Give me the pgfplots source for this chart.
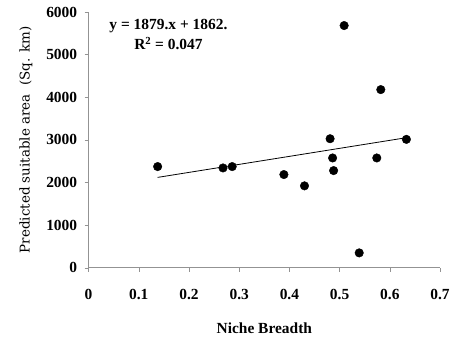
\documentclass[border=0pt]{standalone}
\usepackage{pgfplots}
\pgfplotsset{compat=1.18}
\usepackage{fontspec}
\setmainfont{Liberation Serif}
\newfontfamily\ylabfont{DejaVu Serif}
\begin{document}
\begin{tikzpicture}
\begin{axis}[
  scale only axis,
  width=353pt, height=257pt,
  xmin=0, xmax=0.7, ymin=0, ymax=6000,
  axis lines*=left,
  axis line style={draw=gray!85, line width=0.8pt},
  xtick={0,0.1,...,0.7},
  ytick={0,1000,...,6000},
  xticklabels={0,0.1,0.2,0.3,0.4,0.5,0.6,0.7},
  yticklabels={0,1000,2000,3000,4000,5000,6000},
  tick align=outside,
  major tick length=4pt,
  tick style={draw=gray!85, line width=0.6pt},
  ticklabel style={font=\fontsize{15.5}{15.5}\selectfont\bfseries},
  xticklabel style={yshift=-14pt},
  yticklabel style={xshift=-4pt},
  xlabel={\fontsize{15.5}{15.5}\selectfont\bfseries Niche Breadth},
  xlabel style={yshift=-16pt},
  ylabel={\ylabfont\fontsize{13.5}{13.5}\selectfont Predicted suitable area\ \ (Sq. km)},
  ylabel style={yshift=7pt},
  clip=false,
]
\addplot[only marks, mark=*, mark size=4.3pt, black] coordinates {
(0.1375,2374) (0.2677,2342) (0.286,2374) (0.389,2187) (0.430,1922)
(0.481,3027) (0.486,2576) (0.488,2280) (0.509,5681) (0.539,350)
(0.574,2576) (0.582,4179) (0.633,3012)
};
\addplot[black, line width=0.8pt] coordinates {(0.1375,2120.4) (0.633,3051.4)};
\node[font=\fontsize{15.5}{15.5}\selectfont\bfseries, align=center, inner sep=0pt]
  at (axis cs:0.159,5470) {y = 1879.x + 1862.\\[3pt]R\textsuperscript{2} = 0.047};
\end{axis}
\path (current axis.south west) ++(-89pt,-74pt) coordinate (bl);
\path (current axis.north east) ++(11pt,12pt) coordinate (tr);
\useasboundingbox (bl) rectangle (tr);
\end{tikzpicture}
\end{document}
